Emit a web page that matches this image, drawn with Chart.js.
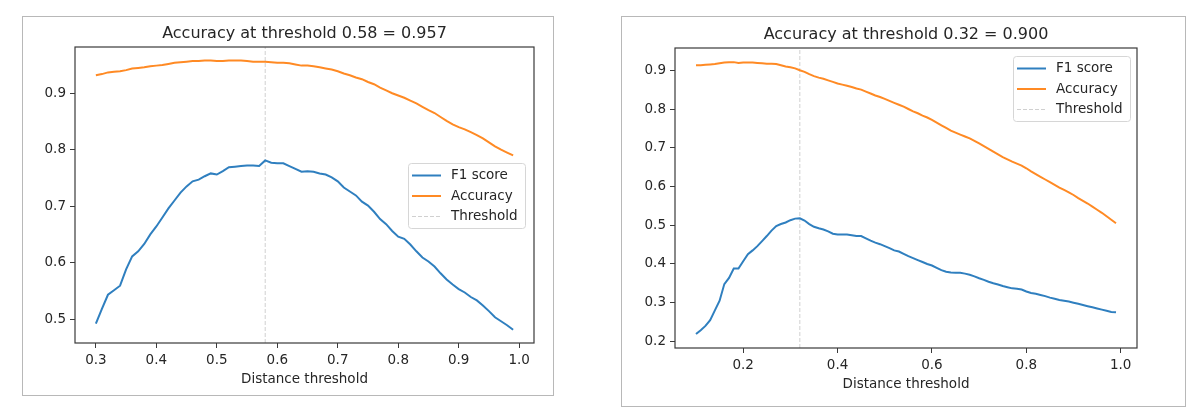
<!DOCTYPE html>
<html>
<head>
<meta charset="utf-8">
<script src="https://cdn.jsdelivr.net/npm/chart.js@4.4.1/dist/chart.umd.min.js"></script>
<style>
  body { margin: 0; background: #fff; width: 1193px; height: 419px; position: relative; overflow: hidden; }
  .panel { position: absolute; border: 1px solid #b8b8b8; background: #fff; }
  .panel canvas { display: block; }
</style>
</head>
<body>
<div class="panel" style="left:22px;top:16px;"><canvas id="leftChart" width="530" height="378"></canvas></div>
<div class="panel" style="left:621px;top:16px;"><canvas id="rightChart" width="563" height="389"></canvas></div>
<script>
// Left plot data
const leftThresholds = [
  0.30, 0.31, 0.32, 0.33, 0.34, 0.35, 0.36, 0.37, 0.38, 0.39,
  0.40, 0.41, 0.42, 0.43, 0.44, 0.45, 0.46, 0.47, 0.48, 0.49,
  0.50, 0.51, 0.52, 0.53, 0.54, 0.55, 0.56, 0.57, 0.58, 0.59,
  0.60, 0.61, 0.62, 0.63, 0.64, 0.65, 0.66, 0.67, 0.68, 0.69,
  0.70, 0.71, 0.72, 0.73, 0.74, 0.75, 0.76, 0.77, 0.78, 0.79,
  0.80, 0.81, 0.82, 0.83, 0.84, 0.85, 0.86, 0.87, 0.88, 0.89,
  0.90, 0.91, 0.92, 0.93, 0.94, 0.95, 0.96, 0.97, 0.98, 0.99,
]
const leftF1 = [
  0.492, 0.518, 0.543, 0.551, 0.559, 0.588, 0.611, 0.620, 0.633, 0.650,
  0.664, 0.680, 0.696, 0.710, 0.724, 0.735, 0.744, 0.747, 0.753, 0.758,
  0.756, 0.762, 0.769, 0.770, 0.771, 0.772, 0.772, 0.771, 0.781, 0.777,
  0.776, 0.776, 0.771, 0.766, 0.761, 0.762, 0.761, 0.758, 0.756, 0.751,
  0.744, 0.733, 0.726, 0.719, 0.708, 0.701, 0.690, 0.677, 0.668, 0.656,
  0.646, 0.642, 0.632, 0.620, 0.609, 0.602, 0.593, 0.581, 0.570, 0.561,
  0.553, 0.547, 0.539, 0.533, 0.524, 0.514, 0.503, 0.496, 0.489, 0.481,
]
const leftAccuracy = [
  0.932, 0.934, 0.937, 0.938, 0.939, 0.941, 0.944, 0.945, 0.946, 0.948,
  0.949, 0.950, 0.952, 0.954, 0.955, 0.956, 0.957, 0.957, 0.958, 0.958,
  0.957, 0.957, 0.958, 0.958, 0.958, 0.957, 0.956, 0.956, 0.956, 0.955,
  0.954, 0.954, 0.953, 0.951, 0.949, 0.949, 0.948, 0.946, 0.944, 0.942,
  0.939, 0.935, 0.932, 0.928, 0.925, 0.920, 0.916, 0.910, 0.905, 0.900,
  0.896, 0.892, 0.887, 0.882, 0.876, 0.870, 0.865, 0.858, 0.851, 0.845,
  0.840, 0.836, 0.831, 0.826, 0.820, 0.813, 0.806, 0.800, 0.795, 0.790,
]
const leftBest = 0.58
const leftXTicks = [0.3, 0.4, 0.5, 0.6, 0.7, 0.8, 0.9, 1.0]
const leftYTicks = [0.5, 0.6, 0.7, 0.8, 0.9]
const leftXRange = [0.2655, 1.0245]
const leftYRange = [0.4575, 0.982]

// Right plot data
const rightThresholds = [
  0.10, 0.11, 0.12, 0.13, 0.14, 0.15, 0.16, 0.17, 0.18, 0.19,
  0.20, 0.21, 0.22, 0.23, 0.24, 0.25, 0.26, 0.27, 0.28, 0.29,
  0.30, 0.31, 0.32, 0.33, 0.34, 0.35, 0.36, 0.37, 0.38, 0.39,
  0.40, 0.41, 0.42, 0.43, 0.44, 0.45, 0.46, 0.47, 0.48, 0.49,
  0.50, 0.51, 0.52, 0.53, 0.54, 0.55, 0.56, 0.57, 0.58, 0.59,
  0.60, 0.61, 0.62, 0.63, 0.64, 0.65, 0.66, 0.67, 0.68, 0.69,
  0.70, 0.71, 0.72, 0.73, 0.74, 0.75, 0.76, 0.77, 0.78, 0.79,
  0.80, 0.81, 0.82, 0.83, 0.84, 0.85, 0.86, 0.87, 0.88, 0.89,
  0.90, 0.91, 0.92, 0.93, 0.94, 0.95, 0.96, 0.97, 0.98, 0.99,
]
const rightF1 = [
  0.219, 0.229, 0.240, 0.255, 0.280, 0.305, 0.348, 0.364, 0.388, 0.388,
  0.407, 0.425, 0.435, 0.446, 0.459, 0.472, 0.486, 0.498, 0.503, 0.507,
  0.513, 0.517, 0.518, 0.512, 0.503, 0.496, 0.492, 0.489, 0.484, 0.478,
  0.476, 0.476, 0.476, 0.474, 0.472, 0.472, 0.466, 0.460, 0.455, 0.451,
  0.446, 0.441, 0.435, 0.432, 0.426, 0.420, 0.415, 0.410, 0.405, 0.400,
  0.396, 0.390, 0.384, 0.380, 0.378, 0.377, 0.377, 0.375, 0.372, 0.368,
  0.363, 0.359, 0.354, 0.350, 0.347, 0.343, 0.340, 0.337, 0.336, 0.334,
  0.329, 0.325, 0.323, 0.320, 0.317, 0.313, 0.310, 0.307, 0.305, 0.303,
  0.300, 0.297, 0.294, 0.291, 0.288, 0.285, 0.282, 0.279, 0.276, 0.275,
]
const rightAccuracy = [
  0.913, 0.913, 0.914, 0.915, 0.916, 0.918, 0.920, 0.921, 0.921, 0.919,
  0.920, 0.920, 0.920, 0.919, 0.918, 0.917, 0.917, 0.916, 0.913, 0.910,
  0.908, 0.905, 0.900, 0.896, 0.890, 0.885, 0.881, 0.878, 0.874, 0.870,
  0.866, 0.863, 0.860, 0.857, 0.853, 0.850, 0.845, 0.840, 0.835, 0.831,
  0.826, 0.821, 0.816, 0.811, 0.806, 0.800, 0.794, 0.789, 0.783, 0.778,
  0.772, 0.765, 0.758, 0.751, 0.744, 0.739, 0.734, 0.729, 0.724, 0.718,
  0.711, 0.704, 0.697, 0.690, 0.683, 0.676, 0.670, 0.664, 0.659, 0.654,
  0.647, 0.639, 0.632, 0.625, 0.618, 0.611, 0.604, 0.597, 0.591, 0.585,
  0.578, 0.570, 0.563, 0.556, 0.548, 0.540, 0.532, 0.523, 0.514, 0.505,
]
const rightBest = 0.32
const rightXTicks = [0.2, 0.4, 0.6, 0.8, 1.0]
const rightYTicks = [0.2, 0.3, 0.4, 0.5, 0.6, 0.7, 0.8, 0.9]
const rightXRange = [0.0555, 1.0345]
const rightYRange = [0.183, 0.9575]

const FONT = 'DejaVu Sans'
const TEXT = '#262626'

// spines all round like matplotlib
const axesBox = {
  id: 'axesBox',
  afterDatasetsDraw(chart) {
    const { ctx, chartArea: a } = chart
    ctx.save()
    ctx.strokeStyle = '#3a3a3a'
    ctx.lineWidth = 1.2
    ctx.strokeRect(a.left, a.top, a.right - a.left, a.bottom - a.top)
    ctx.restore()
  },
}

// title centred over the axes, not over the canvas
const axesTitle = {
  id: 'axesTitle',
  afterDraw(chart, args, opts) {
    const { ctx, chartArea: a } = chart
    ctx.save()
    ctx.font = '16px "' + FONT + '"'
    ctx.fillStyle = TEXT
    ctx.textAlign = 'center'
    ctx.textBaseline = 'middle'
    ctx.fillText(opts.text, (a.left + a.right) / 2, opts.y)
    ctx.restore()
  },
}

// framed legend drawn inside the plot area
const boxLegend = {
  id: 'boxLegend',
  afterDraw(chart, args, opts) {
    const { ctx, chartArea: a } = chart
    ctx.save()
    ctx.font = '13.5px "' + FONT + '"'
    const labels = chart.data.datasets.map((d) => d.label)
    const textW = Math.max(...labels.map((l) => ctx.measureText(l).width))
    const w = Math.round(43 + textW + 7)
    const h = 65
    const x = Math.round(a.right - opts.right - w)
    const y = opts.place === 'top' ? a.top + opts.top : Math.round((a.top + a.bottom - h) / 2)

    ctx.beginPath()
    ctx.roundRect(x + 0.5, y + 0.5, w, h, 3)
    ctx.fillStyle = 'rgba(255,255,255,0.8)'
    ctx.fill()
    ctx.strokeStyle = '#d6d6d6'
    ctx.lineWidth = 1
    ctx.stroke()

    chart.data.datasets.forEach((ds, i) => {
      const ry = y + 12.5 + i * 20.5
      ctx.strokeStyle = ds.borderColor
      ctx.lineWidth = ds.borderWidth
      ctx.setLineDash(ds.borderDash || [])
      ctx.beginPath()
      ctx.moveTo(x + 4, ry)
      ctx.lineTo(x + 33, ry)
      ctx.stroke()
      ctx.setLineDash([])
      ctx.fillStyle = TEXT
      ctx.textBaseline = 'middle'
      ctx.fillText(ds.label, x + 43, ry)
    })
    ctx.restore()
  },
}

const toPoints = (xs, ys) => xs.map((x, i) => ({ x, y: ys[i] }))

const makeChart = (canvasId, cfg) => {
  const ctx = document.getElementById(canvasId).getContext('2d')
  return new Chart(ctx, {
    type: 'line',
    data: {
      datasets: [
        {
          label: 'F1 score',
          data: toPoints(cfg.thresholds, cfg.f1),
          borderColor: '#2f7fbf',
          borderWidth: 2,
        },
        {
          label: 'Accuracy',
          data: toPoints(cfg.thresholds, cfg.accuracy),
          borderColor: '#ff8a24',
          borderWidth: 2,
        },
        {
          label: 'Threshold',
          data: [
            { x: cfg.best, y: cfg.yRange[0] },
            { x: cfg.best, y: cfg.yRange[1] },
          ],
          borderColor: '#d0d0d0',
          borderWidth: 1,
          borderDash: [4, 2],
        },
      ],
    },
    options: {
      responsive: false,
      animation: false,
      devicePixelRatio: 1,
      elements: { point: { radius: 0 }, line: { tension: 0 } },
      layout: { padding: { left: 0, right: cfg.padRight, top: cfg.chartTop, bottom: 0 } },
      plugins: {
        legend: { display: false },
        tooltip: { enabled: false },
        title: { display: false },
        axesTitle: {
          text: 'Accuracy at threshold ' + cfg.best.toFixed(2) + ' = ' + cfg.titleAcc.toFixed(3),
          y: cfg.titleY,
        },
        boxLegend: cfg.legend,
      },
      scales: {
        x: {
          type: 'linear',
          bounds: 'data',
          min: cfg.xRange[0],
          max: cfg.xRange[1],
          afterBuildTicks: (scale) => {
            scale.ticks = cfg.xTicks.map((v) => ({ value: v }))
          },
          afterFit: (scale) => {
            scale.height = cfg.xAxisHeight
          },
          grid: { drawOnChartArea: false, drawTicks: true, tickLength: 5, color: '#3a3a3a' },
          border: { display: false },
          ticks: {
            color: TEXT,
            padding: 4,
            maxRotation: 0,
            font: { family: FONT, size: 13.5 },
            callback: (v) => v.toFixed(1),
          },
          title: {
            display: true,
            text: 'Distance threshold',
            color: TEXT,
            font: { family: FONT, size: 13.5 },
            padding: { top: 0, bottom: cfg.xTitleBottom },
          },
        },
        y: {
          type: 'linear',
          bounds: 'data',
          min: cfg.yRange[0],
          max: cfg.yRange[1],
          afterBuildTicks: (scale) => {
            scale.ticks = cfg.yTicks.map((v) => ({ value: v }))
          },
          afterFit: (scale) => {
            scale.width = cfg.yAxisWidth
          },
          grid: { drawOnChartArea: false, drawTicks: true, tickLength: 5, color: '#3a3a3a' },
          border: { display: false },
          ticks: {
            color: TEXT,
            padding: 4,
            font: { family: FONT, size: 13.5 },
            callback: (v) => v.toFixed(1),
          },
        },
      },
    },
    plugins: [axesBox, axesTitle, boxLegend],
  })
}

makeChart('leftChart', {
  thresholds: leftThresholds,
  f1: leftF1,
  accuracy: leftAccuracy,
  best: leftBest,
  titleAcc: 0.957,
  xTicks: leftXTicks,
  yTicks: leftYTicks,
  xRange: leftXRange,
  yRange: leftYRange,
  padRight: 19,
  yAxisWidth: 52,
  xAxisHeight: 52,
  chartTop: 30,
  titleY: 17,
  xTitleBottom: 7.9,
  legend: { place: 'middle', right: 9 },
})

makeChart('rightChart', {
  thresholds: rightThresholds,
  f1: rightF1,
  accuracy: rightAccuracy,
  best: rightBest,
  titleAcc: 0.9,
  xTicks: rightXTicks,
  yTicks: rightYTicks,
  xRange: rightXRange,
  yRange: rightYRange,
  padRight: 48,
  yAxisWidth: 53,
  xAxisHeight: 58,
  chartTop: 31,
  titleY: 18,
  xTitleBottom: 13.9,
  legend: { place: 'top', right: 7, top: 8 },
})
</script>
</body>
</html>
